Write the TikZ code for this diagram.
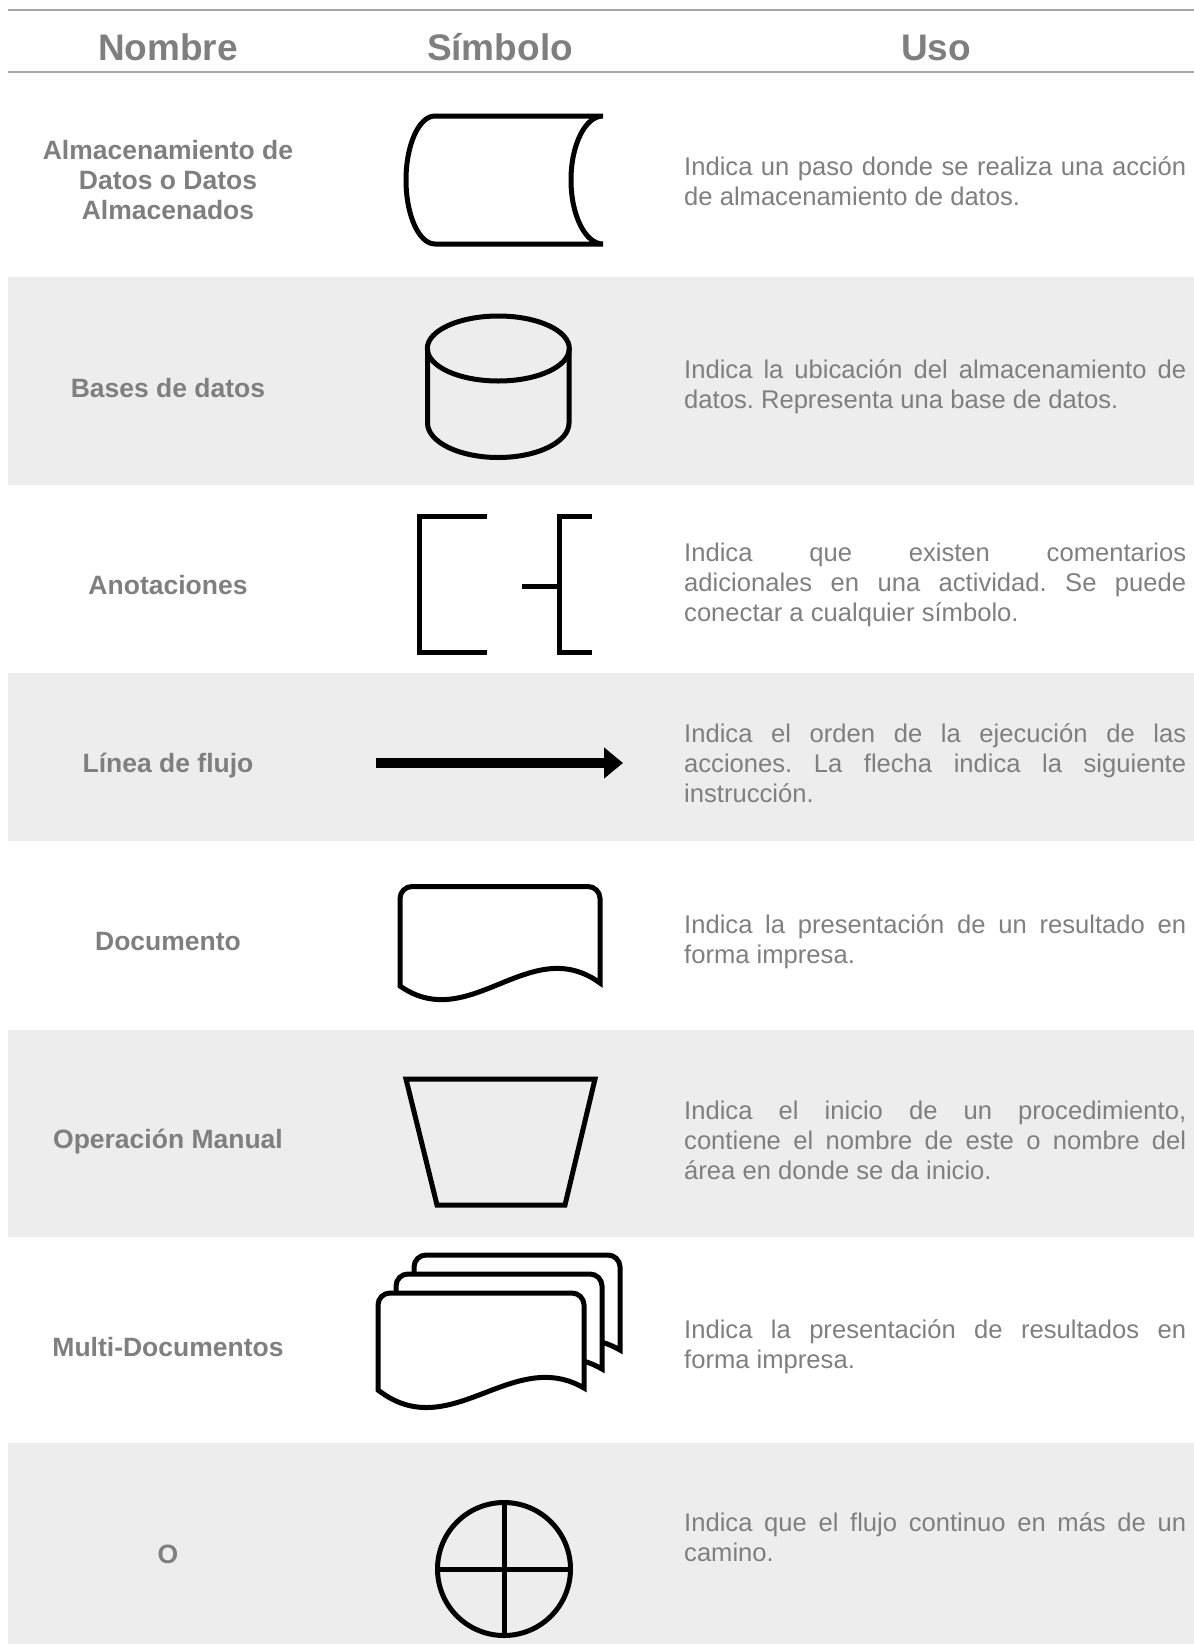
\documentclass[tikz,border=0pt]{standalone}
\usepackage{fontspec}
\setmainfont{Liberation Sans}
\usetikzlibrary{arrows.meta}
\definecolor{textogris}{HTML}{7F7F7F}
\definecolor{fondogris}{HTML}{EDEDED}
\definecolor{lineagris}{HTML}{A6A6A6}
\hyphenpenalty=10000
\tolerance=10000
\frenchspacing

\begin{document}
\begin{tikzpicture}[x=1pt,y=-1pt,
    encabezado/.style={text=textogris,font=\fontsize{37}{40}\selectfont\bfseries},
    nombre/.style={text=textogris,align=center,font=\fontsize{26.5}{30}\selectfont\bfseries},
    uso/.style={text=textogris,anchor=west,text width=502pt,align=justify,inner sep=0pt,
      font=\fontsize{25.6}{30}\selectfont},
    simbolo/.style={draw=black,line width=5pt}]
  \useasboundingbox (0,0) rectangle (1194,1644);

  % filas grises
  \fill[fondogris] (8,277) rectangle (1194,485);
  \fill[fondogris] (8,673) rectangle (1194,841);
  \fill[fondogris] (8,1030) rectangle (1194,1237);
  \fill[fondogris] (8,1443) rectangle (1194,1644);

  % encabezado
  \draw[lineagris,line width=2pt] (8,10) -- (1194,10);
  \draw[lineagris,line width=2pt] (8,72) -- (1194,72);
  \node[encabezado] (hdrNombre) at (168,47) {Nombre};
  \node[encabezado] (hdrSimbolo) at (500,47) {Símbolo};
  \node[encabezado] (hdrUso) at (936,48) {Uso};

  % almacenamiento de datos
  \node[nombre] (nomAlmacen) at (168,180) {Almacenamiento de\\Datos o Datos\\Almacenados};
  \draw[simbolo] (435,116) -- (603,116) .. controls (585.3,116) and (571,144.7) .. (571,180)
    .. controls (571,215.3) and (585.3,244) .. (603,244) -- (435,244)
    .. controls (419,244) and (406,215.3) .. (406,180) .. controls (406,144.7) and (419,116) .. (435,116) -- cycle;
  \node[uso] (usoAlmacen) at (684,181) {Indica un paso donde se realiza una acción\linebreak de almacenamiento de datos.};

  % bases de datos
  \node[nombre] (nomBase) at (168,388) {Bases de datos};
  \draw[simbolo] (498.3,348.5) ellipse [x radius=71pt,y radius=32.5pt];
  \draw[simbolo] (427.5,348.5) -- (427.5,423) .. controls (427.5,442) and (459.3,457.5) .. (498.3,457.5)
    .. controls (537.3,457.5) and (569,442) .. (569,423) -- (569,348.5);
  \node[uso] (usoBase) at (684,387) {Indica la ubicación del almacenamiento de\linebreak datos. Representa una base de datos.};

  % anotaciones
  \node[nombre] (nomAnota) at (168,585) {Anotaciones};
  \draw[simbolo,line join=miter] (487,516.7) -- (419.7,516.7) -- (419.7,652) -- (487,652);
  \draw[simbolo,line join=miter] (592,516.7) -- (559.5,516.7) -- (559.5,652) -- (592,652);
  \draw[simbolo] (521.7,586.7) -- (559.5,586.7);
  \node[uso] (usoAnota) at (684,585) {Indica que existen comentarios\linebreak adicionales en una actividad. Se puede\linebreak conectar a cualquier símbolo.};

  % linea de flujo
  \node[nombre] (nomFlujo) at (168,766) {Línea de flujo};
  \coordinate (flechaIni) at (376,763);
  \coordinate (flechaFin) at (623,763);
  \draw[line width=10pt,-{Triangle[length=19pt,width=30pt]}] (flechaIni) -- (flechaFin);
  \node[uso] (usoFlujo) at (684,763) {Indica el orden de la ejecución de las\linebreak acciones. La flecha indica la siguiente\linebreak instrucción.};

  % documento
  \node[nombre] (nomDoc) at (168,942) {Documento};
  \draw[simbolo] (400,986) [rounded corners=12pt] -- (400,886.5) -- (600,886.5) [sharp corners] -- (600,983)
    .. controls (530,932) and (470,1035) .. (400,986) -- cycle;
  \node[uso] (usoDoc) at (684,942) {Indica la presentación de un resultado en\linebreak forma impresa.};

  % operacion manual
  \node[nombre] (nomManual) at (168,1142) {Operación Manual};
  \draw[simbolo,line join=miter] (406,1079) -- (595,1079) -- (565,1205) -- (437,1205) -- cycle;
  \node[uso] (usoManual) at (684,1140) {Indica el inicio de un procedimiento,\linebreak contiene el nombre de este o nombre del\linebreak área en donde se da inicio.};

  % multi-documentos
  \node[nombre] (nomMulti) at (168,1347) {Multi-Documentos};
  \draw[simbolo,fill=white] (414,1352) [rounded corners=12pt] -- (414,1255) -- (620,1255) [sharp corners] -- (620,1350)
    .. controls (548,1308) and (486,1408) .. (414,1352) -- cycle;
  \draw[simbolo,fill=white] (396,1371) [rounded corners=12pt] -- (396,1274) -- (602,1274) [sharp corners] -- (602,1369)
    .. controls (530,1327) and (468,1427) .. (396,1371) -- cycle;
  \draw[simbolo,fill=white] (378,1390) [rounded corners=12pt] -- (378,1293) -- (584,1293) [sharp corners] -- (584,1388)
    .. controls (512,1346) and (450,1446) .. (378,1390) -- cycle;
  \node[uso] (usoMulti) at (684,1347) {Indica la presentación de resultados en\linebreak forma impresa.};

  % o
  \node[nombre] (nomO) at (168,1554) {O};
  \draw[simbolo] (504,1569) circle [radius=66.5pt];
  \draw[simbolo] (504,1502.5) -- (504,1635.5);
  \draw[simbolo] (437.5,1569) -- (570.5,1569);
  \node[uso] (usoO) at (684,1537) {Indica que el flujo continuo en más de un\linebreak camino.};
\end{tikzpicture}
\end{document}
